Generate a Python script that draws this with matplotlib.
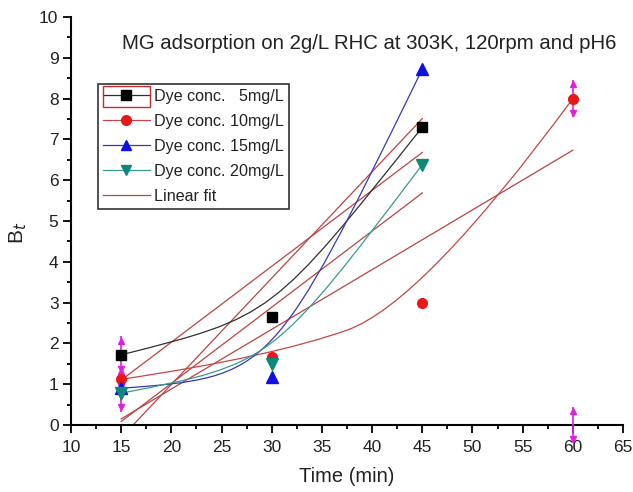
import numpy as np
import matplotlib
matplotlib.use('Agg')
import matplotlib.pyplot as plt
from matplotlib.path import Path
from matplotlib.patches import PathPatch, Rectangle
from matplotlib.lines import Line2D
from matplotlib.ticker import MultipleLocator

plt.rcParams['font.family'] = ['Liberation Sans', 'DejaVu Sans']

# Данные: время (мин) и Bt для каждой концентрации красителя
time_3 = [15, 30, 45]
time_4 = [15, 30, 45, 60]
bt_5 = [1.72, 2.65, 7.30]
bt_10 = [1.12, 1.67, 2.98, 8.00]
bt_15 = [0.90, 1.18, 8.72]
bt_20 = [0.78, 1.50, 6.38]

# Планки погрешностей (пурпурные стрелки)
err_x = [15, 15, 15, 15, 60, 60]
err_y = [1.72, 1.12, 0.90, 0.78, 8.00, 0.00]
err_v = [0.45, 0.30, 0.30, 0.45, 0.45, 0.45]

labels = ['Dye conc.   5mg/L', 'Dye conc. 10mg/L', 'Dye conc. 15mg/L',
          'Dye conc. 20mg/L']
colors = ['black', '#e81818', '#1010e0', '#108878']
line_colors = ['#303030', '#c04848', '#3838b0', '#3a9a90']
markers = ['s', 'o', '^', 'v']
sizes = [7, 7, 8, 8]
fit_color = '#b84444'
mag = '#e020e0'


def spline_path(x, y):
    # соединительная кривая в стиле Origin (B-сплайн по точкам)
    pts = list(zip(x, y))
    if len(pts) == 3:
        return Path([pts[0], pts[1], pts[1], pts[2]],
                    [Path.MOVETO, Path.CURVE4, Path.CURVE4, Path.CURVE4])
    verts = [pts[0]]
    codes = [Path.MOVETO]
    for i in range(1, len(pts) - 1):
        if i < len(pts) - 2:
            end = ((pts[i][0] + pts[i + 1][0]) / 2, (pts[i][1] + pts[i + 1][1]) / 2)
        else:
            end = pts[i + 1]
        verts += [pts[i], end]
        codes += [Path.CURVE3, Path.CURVE3]
    return Path(verts, codes)


fig = plt.figure(figsize=(6.33, 4.92), dpi=100)
ax = fig.add_axes([71 / 633, 67 / 492, 552 / 633, 408 / 492])

series = [(time_3, bt_5), (time_4, bt_10), (time_3, bt_15), (time_3, bt_20)]

# Линейная аппроксимация
for x, y in series:
    k = np.polyfit(x, y, 1)
    xs = np.array([min(x), max(x)])
    ax.plot(xs, np.polyval(k, xs), color=fit_color, lw=0.9, zorder=2)

# Сглаженные линии
for (x, y), lc in zip(series, line_colors):
    ax.add_patch(PathPatch(spline_path(x, y), fill=False, edgecolor=lc, lw=0.9, zorder=3))

# Погрешности
ex = np.array(err_x)
ey = np.array(err_y)
ev = np.array(err_v)
ax.vlines(ex, ey - ev, ey + ev, color=mag, lw=1.2, zorder=4, clip_on=False)
ax.plot(ex, ey + ev - 0.1, '^', color=mag, ms=5, ls='none', zorder=4, clip_on=False)
ax.plot(ex, ey - ev + 0.1, 'v', color=mag, ms=5, ls='none', zorder=4, clip_on=False)

# Точки
for (x, y), c, m, s in zip(series, colors, markers, sizes):
    ax.plot(x, y, m, color=c, ms=s, ls='none', zorder=5)

ax.set_xlim(10, 65)
ax.set_ylim(0, 10)
ax.xaxis.set_major_locator(MultipleLocator(5))
ax.xaxis.set_minor_locator(MultipleLocator(2.5))
ax.yaxis.set_major_locator(MultipleLocator(1))
ax.yaxis.set_minor_locator(MultipleLocator(0.5))
ax.tick_params(which='major', direction='out', length=5.5, width=1.3, labelsize=12.5,
               labelcolor='#222222')
ax.tick_params(axis='x', which='major', pad=5)
ax.tick_params(which='minor', direction='out', length=3.2, width=1.3)
for s in ['top', 'right']:
    ax.spines[s].set_visible(False)
for s in ['left', 'bottom']:
    ax.spines[s].set_linewidth(1.5)

ax.set_xlabel('Time (min)', fontsize=14.5, color='#222222')
ax.xaxis.set_label_coords(0.5, -0.102)
ax.set_ylabel('B$_t$', fontsize=15, color='#222222')
ax.yaxis.set_label_coords(-0.076, 0.47)
ax.text(0.092, 0.934, 'MG adsorption on 2g/L RHC at 303K, 120rpm and pH6',
        transform=ax.transAxes, ha='left', va='center', fontsize=14.7,
        color='#222222')

handles = [Line2D([], [], color=lc, marker=m, mfc=c, mec=c, ms=7, lw=0.9)
           for c, lc, m in zip(colors, line_colors, markers)]
handles.append(Line2D([], [], color=fit_color, lw=0.9))
leg = ax.legend(handles, labels + ['Linear fit'], loc='upper left',
                bbox_to_anchor=(0.049, 0.836), borderaxespad=0, fontsize=11.6,
                fancybox=False, edgecolor='#333333', framealpha=1,
                handlelength=2.9, handletextpad=0.3, labelspacing=0.62,
                borderpad=0.3)
leg.get_frame().set_linewidth(1.2)
for t in leg.get_texts():
    t.set_color('#222222')

# Красная рамка вокруг первого значка легенды
fig.canvas.draw()
t0 = leg.get_texts()[0].get_window_extent()
lb = leg.get_window_extent()
rect = Rectangle((lb.x0 + 5, t0.y0 - 3), t0.x0 - lb.x0 - 9, t0.height + 6,
                 transform=None, fill=False, edgecolor='#c03030', lw=1.0, zorder=10)
fig.patches.append(rect)

fig.savefig('out.png', dpi=100)
